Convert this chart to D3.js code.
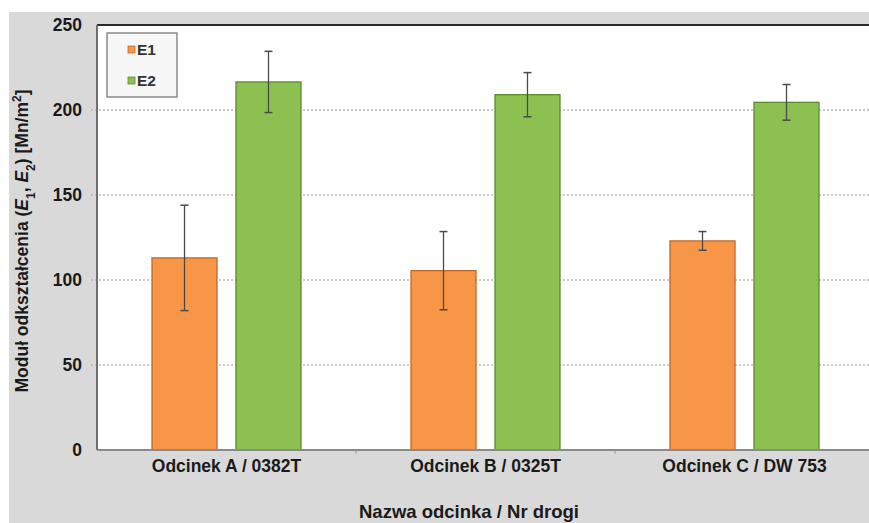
<!DOCTYPE html>
<html>
<head>
<meta charset="utf-8">
<script src="https://cdn.jsdelivr.net/npm/d3@7"></script>
<style>
  html, body { margin: 0; padding: 0; background: #fff; }
  svg { display: block; font-family: "Liberation Sans", Arial, sans-serif; }
</style>
</head>
<body>
<svg id="chart" width="869" height="523"></svg>
<script>
// Road sections (category axis)
const categories = ["Odcinek A / 0382T", "Odcinek B / 0325T", "Odcinek C / DW 753"];
// Series names
const seriesNames = ["E1", "E2"];
// Mean deformation modulus values [MN/m²]
const e1Values = [113, 105.5, 123];
const e2Values = [216.5, 209, 204.5];
// Standard deviations shown as error bars
const e1Errors = [31, 23, 5.5];
const e2Errors = [18, 13, 10.5];
// Y axis ticks
const yTicks = [0, 50, 100, 150, 200, 250];

const colors = { E1: "#f79646", E2: "#8cc152" };
const strokes = { E1: "#c06a2c", E2: "#5b8a30" };

const svg = d3.select("#chart");
const W = 869, H = 523;
const plot = { left: 97, top: 25, right: 874, bottom: 450 };

// Grey chart background
svg.append("rect").attr("x", 9).attr("y", 12).attr("width", W - 9).attr("height", H - 12)
  .attr("fill", "#d9d9d9");

// Plot area
svg.append("rect").attr("x", plot.left).attr("y", plot.top)
  .attr("width", plot.right - plot.left).attr("height", plot.bottom - plot.top)
  .attr("fill", "#ffffff");

const y = d3.scaleLinear().domain([0, 250]).range([plot.bottom, plot.top]);
const x0 = d3.scaleBand().domain(categories).range([plot.left, plot.right]).padding(0);
const x1 = d3.scaleBand().domain(seriesNames).range([0, x0.bandwidth()])
  .paddingInner(0.226).paddingOuter(0.655);

// Gridlines
svg.append("g").selectAll("line").data(yTicks.filter(t => t > 0 && t < 250)).join("line")
  .attr("x1", plot.left - 6).attr("x2", plot.right)
  .attr("y1", d => y(d)).attr("y2", d => y(d))
  .attr("stroke", "#b8b8b8").attr("stroke-width", 1.3).attr("stroke-dasharray", "2,2");

// Y axis
const yAxis = svg.append("g").attr("transform", `translate(${plot.left},0)`)
  .call(d3.axisLeft(y).tickValues(yTicks).tickSize(0).tickPadding(15));
yAxis.select(".domain").remove();
yAxis.selectAll("text").attr("font-size", 17.5).attr("font-weight", "bold")
  .attr("fill", "#1a1a1a").attr("font-family", "Liberation Sans, Arial, sans-serif");

// X axis
const xAxis = svg.append("g").attr("transform", `translate(0,${plot.bottom})`)
  .call(d3.axisBottom(x0).tickSize(0).tickPadding(10));
xAxis.select(".domain").remove();
xAxis.selectAll("text").attr("font-size", 17.5).attr("font-weight", "bold")
  .attr("fill", "#1a1a1a").attr("font-family", "Liberation Sans, Arial, sans-serif");

// Category separators on x axis
svg.append("g").selectAll("line").data(categories.slice(1)).join("line")
  .attr("x1", d => x0(d)).attr("x2", d => x0(d))
  .attr("y1", plot.bottom).attr("y2", plot.bottom + 4)
  .attr("stroke", "#999").attr("stroke-width", 1);

// Bars
const rows = categories.map((c, i) => ({
  cat: c,
  items: [
    { s: "E1", v: e1Values[i], e: e1Errors[i] },
    { s: "E2", v: e2Values[i], e: e2Errors[i] }
  ]
}));

const groups = svg.append("g").selectAll("g").data(rows).join("g")
  .attr("transform", d => `translate(${x0(d.cat)},0)`);

groups.selectAll("rect").data(d => d.items).join("rect")
  .attr("x", d => x1(d.s)).attr("width", x1.bandwidth())
  .attr("y", d => y(d.v)).attr("height", d => y(0) - y(d.v))
  .attr("fill", d => colors[d.s]).attr("stroke", d => strokes[d.s]).attr("stroke-width", 1.3);

// Error bars
const eb = groups.selectAll("g.err").data(d => d.items).join("g").attr("class", "err")
  .attr("transform", d => `translate(${x1(d.s) + x1.bandwidth() / 2},0)`);
eb.append("line").attr("y1", d => y(d.v + d.e)).attr("y2", d => y(d.v - d.e))
  .attr("stroke", "#4a4a4a").attr("stroke-width", 1.3);
eb.append("line").attr("x1", -4).attr("x2", 4)
  .attr("y1", d => y(d.v + d.e)).attr("y2", d => y(d.v + d.e))
  .attr("stroke", "#4a4a4a").attr("stroke-width", 1.5);
eb.append("line").attr("x1", -4).attr("x2", 4)
  .attr("y1", d => y(d.v - d.e)).attr("y2", d => y(d.v - d.e))
  .attr("stroke", "#4a4a4a").attr("stroke-width", 1.5);

// Plot frame
svg.append("line").attr("x1", plot.left).attr("x2", W).attr("y1", plot.top).attr("y2", plot.top)
  .attr("stroke", "#2b2b2b").attr("stroke-width", 2);
svg.append("line").attr("x1", plot.left).attr("x2", plot.left).attr("y1", plot.top).attr("y2", plot.bottom)
  .attr("stroke", "#6e6e6e").attr("stroke-width", 2);
svg.append("line").attr("x1", plot.left).attr("x2", W).attr("y1", plot.bottom).attr("y2", plot.bottom)
  .attr("stroke", "#8a8a8a").attr("stroke-width", 2);

// Legend
const lg = svg.append("g").attr("transform", "translate(107,33)");
lg.append("rect").attr("width", 70).attr("height", 64)
  .attr("fill", "#f7f7f7").attr("stroke", "#8a8a8a").attr("stroke-width", 1.5);
const li = lg.selectAll("g").data(seriesNames).join("g")
  .attr("transform", (d, i) => `translate(21,${17 + i * 31})`);
li.append("rect").attr("x", 0).attr("y", -4).attr("width", 7).attr("height", 7)
  .attr("fill", d => colors[d]).attr("stroke", d => strokes[d]).attr("stroke-width", 0.8);
li.append("text").attr("x", 9).attr("y", 5).text(d => d)
  .attr("font-size", 15.5).attr("font-weight", "bold").attr("fill", "#333");

// Axis titles
svg.append("text").attr("x", 469).attr("y", 518).attr("text-anchor", "middle")
  .attr("font-size", 18.5).attr("font-weight", "bold").attr("fill", "#1a1a1a")
  .text("Nazwa odcinka / Nr drogi");

const yt = svg.append("text").attr("transform", "translate(28,241) rotate(-90)")
  .attr("text-anchor", "middle").attr("font-size", 17.5).attr("font-weight", "bold").attr("fill", "#1a1a1a");
yt.append("tspan").text("Moduł odkształcenia (");
yt.append("tspan").attr("font-style", "italic").text("E");
yt.append("tspan").attr("font-size", 12).attr("baseline-shift", "sub").text("1");
yt.append("tspan").text(", ");
yt.append("tspan").attr("font-style", "italic").text("E");
yt.append("tspan").attr("font-size", 12).attr("baseline-shift", "sub").text("2");
yt.append("tspan").text(") [Mn/m");
yt.append("tspan").attr("font-size", 12).attr("baseline-shift", "super").text("2");
yt.append("tspan").text("]");
</script>
</body>
</html>
